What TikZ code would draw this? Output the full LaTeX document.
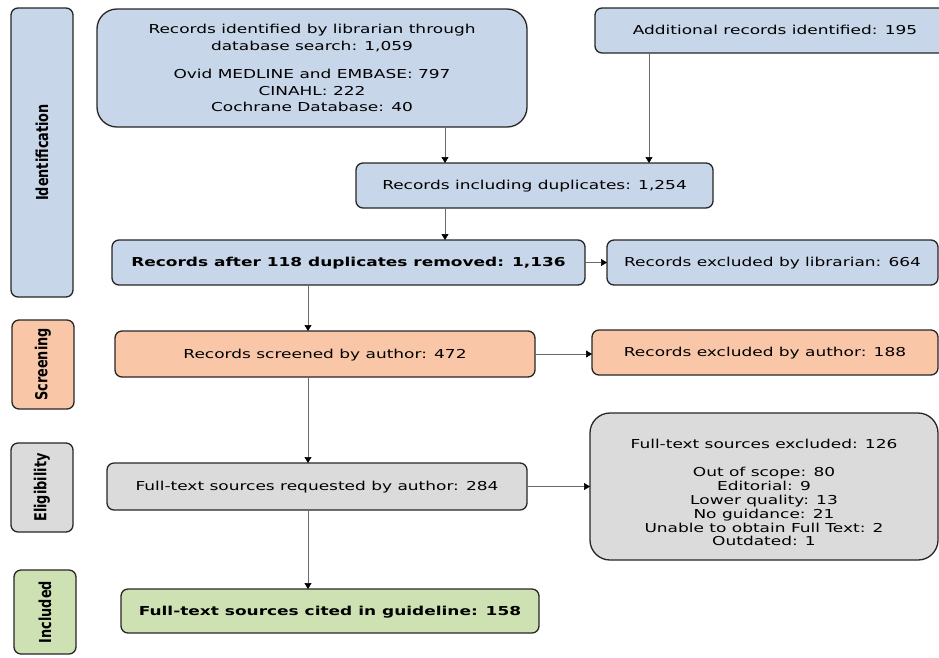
\documentclass[tikz,border=0pt]{standalone}
\usepackage{fontspec}
\setmainfont{DejaVu Sans}[FakeStretch=1.38]
\newfontfamily\phasefont{DejaVu Sans}[FakeStretch=0.78]
\usepackage{xcolor}
\usetikzlibrary{arrows.meta,positioning}

\definecolor{idblue}{RGB}{199,214,233}
\definecolor{scrorange}{RGB}{249,199,168}
\definecolor{eliggray}{RGB}{219,219,219}
\definecolor{inclgreen}{RGB}{206,225,178}
\definecolor{linkgray}{RGB}{105,105,105}

\begin{document}
\begin{tikzpicture}[
    x=1pt, y=-1pt,
    font=\fontsize{12.3}{16.5}\selectfont,
    box/.style={rectangle, rounded corners=7pt, draw=black!85, line width=1.3pt, align=center, inner sep=0pt, outer sep=0pt},
    onebox/.style={box, text height=0.9em, text depth=0.1em},
    bigbox/.style={box, rounded corners=20pt},
    phase/.style={box, rotate=90, minimum height=62pt, font=\phasefont\bfseries\fontsize{16.5}{18}\selectfont},
    arrow/.style={-{Triangle[length=6pt, width=7pt, color=black]}, draw=linkgray, line width=0.6pt}
]
    \useasboundingbox (0,0) rectangle (939,657);

    % phase labels
    \node[phase, fill=idblue, minimum width=289pt] (identification) at (42,152.5) {Identification};
    \node[phase, fill=scrorange, minimum width=89pt] (screening) at (43,364.5) {Screening};
    \node[phase, fill=eliggray, minimum width=89pt] (eligibility) at (42,487.5) {Eligibility};
    \node[phase, fill=inclgreen, minimum width=84pt] (included) at (45,612) {Included};

    % identification
    \node[bigbox, fill=idblue, minimum width=430pt, minimum height=118pt] (lib) at (312,68)
        {Records identified by librarian through\\database search: 1,059\\[12pt]%
         Ovid MEDLINE and EMBASE: 797\\CINAHL: 222\\Cochrane Database: 40};
    \node[onebox, fill=idblue, minimum width=360pt, minimum height=45pt] (addl) at (775,30.5) {Additional records identified: 195};
    \node[onebox, fill=idblue, minimum width=357pt, minimum height=45pt] (dupl) at (534.5,185.5) {Records including duplicates: 1,254};
    \node[onebox, fill=idblue, minimum width=473pt, minimum height=45pt, font=\fontsize{12.3}{16.5}\selectfont\bfseries] (dedup) at (348.5,262.5) {Records after 118 duplicates removed: 1,136};
    \node[onebox, fill=idblue, minimum width=331pt, minimum height=45pt] (exlib) at (772.5,262.5) {Records excluded by librarian: 664};

    % screening
    \node[onebox, fill=scrorange, minimum width=420pt, minimum height=46pt] (screen) at (325,354) {Records screened by author: 472};
    \node[onebox, fill=scrorange, minimum width=346pt, minimum height=45pt] (exauth) at (765,352.5) {Records excluded by author: 188};

    % eligibility
    \node[onebox, fill=eliggray, minimum width=420pt, minimum height=47pt] (request) at (317,486.5) {Full-text sources requested by author: 284};
    \node[bigbox, fill=eliggray, minimum width=348pt, minimum height=147pt, font=\fontsize{12.3}{13.8}\selectfont] (exfull) at (764,486.5)
        {\mbox{}\\[7.5pt]Full-text sources excluded: 126\\[15pt]Out of scope: 80\\Editorial: 9\\Lower quality: 13\\No guidance: 21\\Unable to obtain Full Text: 2\\Outdated: 1};

    % included
    \node[onebox, fill=inclgreen, minimum width=418pt, minimum height=44pt, font=\fontsize{12.3}{16.5}\selectfont\bfseries] (cited) at (330,611) {Full-text sources cited in guideline: 158};

    \coordinate (libdrop) at (445,0);
    \coordinate (addldrop) at (649,0);
    \coordinate (spine) at (308,0);

    \draw[arrow] (lib.south -| libdrop) -- (dupl.north -| libdrop);
    \draw[arrow] (addl.south -| addldrop) -- (dupl.north -| addldrop);
    \draw[arrow] (dupl.south -| libdrop) -- (dedup.north -| libdrop);
    \draw[arrow] (dedup.east) -- (exlib.west);
    \draw[arrow] (dedup.south -| spine) -- (screen.north -| spine);
    \draw[arrow] (screen.east) -- (screen.east -| exauth.west);
    \draw[arrow] (screen.south -| spine) -- (request.north -| spine);
    \draw[arrow] (request.east) -- (request.east -| exfull.west);
    \draw[arrow] (request.south -| spine) -- (cited.north -| spine);
\end{tikzpicture}
\end{document}
